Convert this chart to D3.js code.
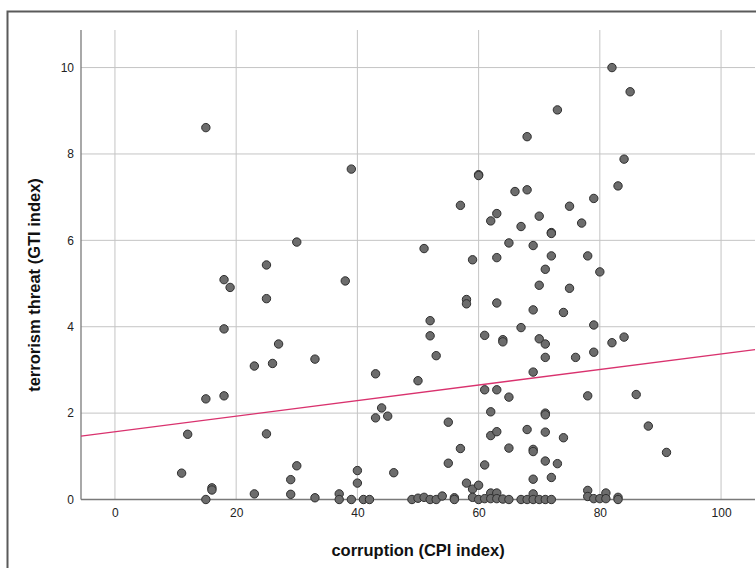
<!DOCTYPE html>
<html>
<head>
<meta charset="utf-8">
<script src="https://cdn.jsdelivr.net/npm/d3@7/dist/d3.min.js"></script>
<style>
  html, body { margin: 0; padding: 0; background: #fff; }
  svg { display: block; }
</style>
</head>
<body>
<svg id="chart" width="756" height="568"></svg>
<script>
// ---- data ----
const cpi = [
  15, 18, 19, 18, 23, 15, 18, 12, 11, 16, 16, 15, 23,
  39, 57, 30, 51, 25, 38, 25,
  52, 52, 27, 53, 26, 33, 43, 50, 44, 43, 45, 55, 25, 57, 55, 30, 29, 29, 33, 37, 37, 39, 40, 40, 41, 42, 46,
  49, 50, 51, 52, 53, 54, 56, 56,
  58, 59, 59, 60, 60, 61, 62,
  61, 64, 64, 67, 70, 71, 71, 76, 79, 79, 82, 84, 69, 61, 63, 65, 78, 86, 62, 71, 71, 63, 68, 71, 74, 88, 65, 69, 69, 71, 73, 69, 72, 91,
  61, 62, 62, 63, 63, 64, 65, 67, 68, 69, 69, 70, 71, 72, 78, 78, 79, 80, 81, 81, 83, 83,
  84, 60, 60, 83, 66, 68, 79, 63, 62, 70, 75, 77, 67, 72, 72, 65, 69, 59, 63, 72, 78, 71, 80, 70, 75, 58, 58, 63, 69, 74,
  82, 85, 73, 68
];
const gti = [
  8.61, 5.09, 4.91, 3.95, 3.09, 2.33, 2.40, 1.51, 0.61, 0.27, 0.22, 0.00, 0.13,
  7.65, 6.81, 5.96, 5.81, 5.43, 5.06, 4.65,
  4.14, 3.79, 3.60, 3.33, 3.15, 3.25, 2.91, 2.75, 2.12, 1.89, 1.93, 1.79, 1.52, 1.18, 0.84, 0.78, 0.46, 0.12, 0.04, 0.13, 0.00, 0.00, 0.67, 0.38, 0.00, 0.00, 0.62,
  0.00, 0.03, 0.05, 0.00, 0.00, 0.08, 0.04, 0.00,
  0.38, 0.24, 0.05, 0.33, 0.00, 0.80, 1.48,
  3.80, 3.70, 3.65, 3.98, 3.72, 3.60, 3.29, 3.29, 4.04, 3.41, 3.63, 3.76, 2.95, 2.54, 2.54, 2.37, 2.40, 2.43, 2.03, 2.00, 1.96, 1.57, 1.62, 1.56, 1.43, 1.70, 1.19, 1.16, 1.11, 0.89, 0.83, 0.47, 0.51, 1.09,
  0.02, 0.15, 0.02, 0.15, 0.02, 0.01, 0.00, 0.00, 0.00, 0.13, 0.00, 0.00, 0.00, 0.00, 0.21, 0.07, 0.02, 0.02, 0.15, 0.02, 0.05, 0.00,
  7.88, 7.52, 7.50, 7.26, 7.13, 7.17, 6.97, 6.62, 6.45, 6.56, 6.79, 6.40, 6.32, 6.18, 6.16, 5.94, 5.88, 5.55, 5.60, 5.64, 5.64, 5.33, 5.27, 4.96, 4.89, 4.63, 4.53, 4.55, 4.39, 4.33,
  10.00, 9.44, 9.02, 8.40
];
const xTicks = [0, 20, 40, 60, 80, 100];
const yTicks = [0, 2, 4, 6, 8, 10];
const fitIntercept = 1.57;   // linear fit line
const fitSlope = 0.018;
const xTitle = "corruption (CPI index)";
const yTitle = "terrorism threat (GTI index)";

// ---- layout ----
const svg = d3.select("#chart");
const L = 81, R = 755, T = 30, B = 499.5;
const x = d3.scaleLinear().domain([-5.6, 105.6]).range([L, R]);
const y = d3.scaleLinear().domain([0, 10.87]).range([B, T]);
const FONT = "'Liberation Sans', Arial, sans-serif";

// outer frame
svg.append("rect")
  .attr("x", 7.5).attr("y", 11.5)
  .attr("width", 800).attr("height", 600)
  .attr("fill", "none").attr("stroke", "#5a5a5a").attr("stroke-width", 2);

// grid
const grid = svg.append("g");
grid.selectAll("line.v").data(xTicks).join("line")
  .attr("x1", d => x(d)).attr("x2", d => x(d))
  .attr("y1", T).attr("y2", B)
  .attr("stroke", "#c4c4c4").attr("stroke-width", 1);
grid.selectAll("line.h").data(yTicks.filter(d => d > 0)).join("line")
  .attr("x1", L).attr("x2", R)
  .attr("y1", d => y(d)).attr("y2", d => y(d))
  .attr("stroke", "#c4c4c4").attr("stroke-width", 1);

// axes
const xAxis = svg.append("g").attr("transform", `translate(0,${B})`)
  .call(d3.axisBottom(x).tickValues(xTicks).tickSize(0).tickPadding(9));
const yAxis = svg.append("g").attr("transform", `translate(${L},0)`)
  .call(d3.axisLeft(y).tickValues(yTicks).tickSize(0).tickPadding(7));
[xAxis, yAxis].forEach(a => {
  a.attr("color", "#222");
  a.select(".domain").attr("stroke", "#7a7a7a").attr("stroke-width", 1.3);
  a.selectAll("text").style("font-family", FONT)
    .style("font-size", "12px").style("fill", "#222");
});
xAxis.select(".domain").attr("d", `M${L},0H${R}`);
yAxis.select(".domain").attr("d", `M0,${T}V${B}`);

// points
const pts = cpi.map((c, i) => ({ c, g: gti[i] }));
svg.append("g").selectAll("circle").data(pts).join("circle")
  .attr("cx", d => x(d.c)).attr("cy", d => y(d.g))
  .attr("r", 4.2)
  .attr("fill", "#6c6c6c").attr("stroke", "#2e2e2e").attr("stroke-width", 1);

// fit line
const xd = x.domain();
svg.append("line")
  .attr("x1", x(xd[0])).attr("y1", y(fitIntercept + fitSlope * xd[0]))
  .attr("x2", x(xd[1])).attr("y2", y(fitIntercept + fitSlope * xd[1]))
  .attr("stroke", "#d9326e").attr("stroke-width", 1.3);

// titles
svg.append("text")
  .attr("x", (L + R) / 2).attr("y", 556)
  .attr("text-anchor", "middle")
  .style("font-family", FONT)
  .style("font-weight", "bold").style("font-size", "16.5px").style("fill", "#111")
  .text(xTitle);
svg.append("text")
  .attr("transform", `translate(40,${285}) rotate(-90)`)
  .attr("text-anchor", "middle")
  .style("font-family", FONT)
  .style("font-weight", "bold").style("font-size", "16.5px").style("fill", "#111")
  .text(yTitle);
</script>
</body>
</html>
